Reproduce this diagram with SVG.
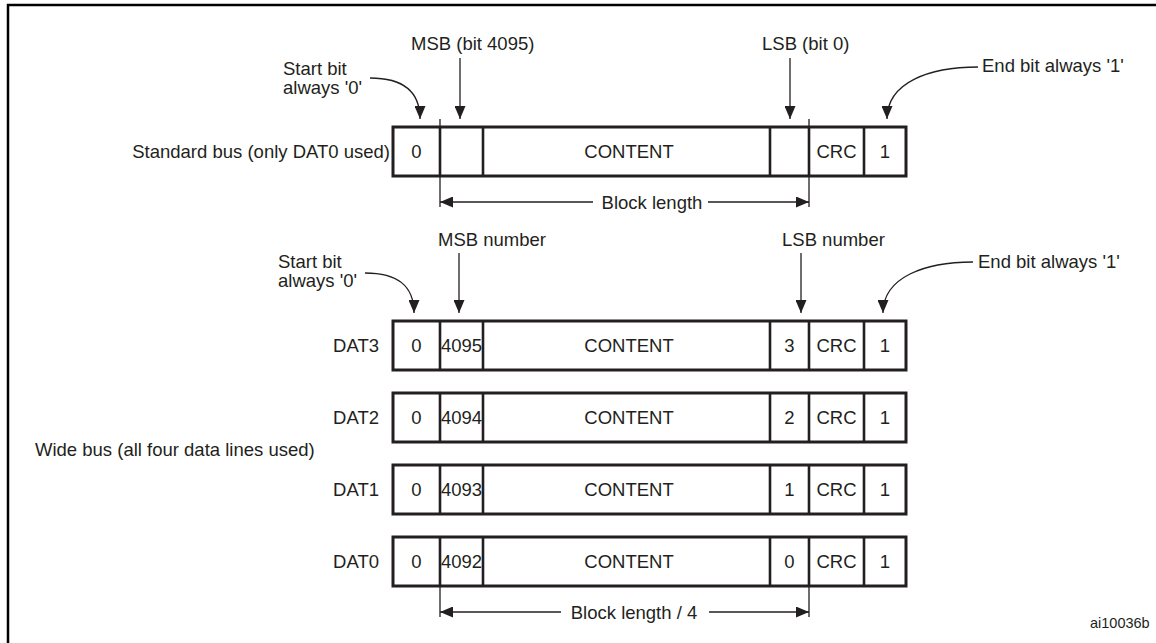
<svg xmlns="http://www.w3.org/2000/svg" width="1156" height="643" viewBox="0 0 1156 643">
<defs>
<style>
text{font-family:"Liberation Sans",Arial,sans-serif;font-size:18.5px;fill:#231f20}
.mid{text-anchor:middle}
.end{text-anchor:end}
.box{fill:#fff;stroke:#231f20;stroke-width:3}
.div{stroke:#231f20;stroke-width:2.6}
.thin{fill:none;stroke:#231f20;stroke-width:1.3}
.frame{fill:none;stroke:#000;stroke-width:2.5}
</style>
<marker id="ah" viewBox="0 0 13 11" refX="13" refY="5.5" markerWidth="13" markerHeight="11" markerUnits="userSpaceOnUse" orient="auto-start-reverse">
<path d="M0,0 L13,5.5 L0,11 z" fill="#231f20"/>
</marker>
</defs>
<rect width="1156" height="643" fill="#fff"/>
<path class="frame" d="M8,643 V5 H1156"/>

<g id="std-label"><text class="end" x="390" y="158">Standard bus (only DAT0 used)</text></g>
<g id="std-row">
<rect class="box" x="393" y="127" width="513" height="49"/>
<path class="div" d="M440,127V176M483,127V176M770,127V176M809,127V176M864,127V176"/>
<text class="mid" x="416.5" y="158">0</text>
<text class="mid" x="629" y="158">CONTENT</text>
<text class="mid" x="836.5" y="158">CRC</text>
<text class="mid" x="885" y="158">1</text>
</g>

<g id="std-start"><text x="283" y="74.5">Start bit</text><text x="283" y="93.5">always '0'</text></g>
<g id="std-msb"><text x="411" y="49.5">MSB (bit 4095)</text></g>
<g id="std-lsb"><text x="762" y="49.5">LSB (bit 0)</text></g>
<g id="std-end"><text x="982" y="71.5">End bit always '1'</text></g>
<g id="std-blocklen"><text class="mid" x="652" y="208.5">Block length</text></g>

<g id="wide-label"><text x="35" y="456">Wide bus (all four data lines used)</text></g>

<g id="dat3">
<text class="end" x="379" y="352">DAT3</text>
<rect class="box" x="393" y="321" width="513" height="49"/>
<path class="div" d="M440,321V370M483,321V370M770,321V370M809,321V370M864,321V370"/>
<text class="mid" x="416.5" y="352">0</text>
<text class="mid" x="461.5" y="352">4095</text>
<text class="mid" x="629" y="352">CONTENT</text>
<text class="mid" x="789.5" y="352">3</text>
<text class="mid" x="836.5" y="352">CRC</text>
<text class="mid" x="885" y="352">1</text>
</g>
<g id="dat2">
<text class="end" x="379" y="424">DAT2</text>
<rect class="box" x="393" y="393" width="513" height="49"/>
<path class="div" d="M440,393V442M483,393V442M770,393V442M809,393V442M864,393V442"/>
<text class="mid" x="416.5" y="424">0</text>
<text class="mid" x="461.5" y="424">4094</text>
<text class="mid" x="629" y="424">CONTENT</text>
<text class="mid" x="789.5" y="424">2</text>
<text class="mid" x="836.5" y="424">CRC</text>
<text class="mid" x="885" y="424">1</text>
</g>
<g id="dat1">
<text class="end" x="379" y="496">DAT1</text>
<rect class="box" x="393" y="465" width="513" height="49"/>
<path class="div" d="M440,465V514M483,465V514M770,465V514M809,465V514M864,465V514"/>
<text class="mid" x="416.5" y="496">0</text>
<text class="mid" x="461.5" y="496">4093</text>
<text class="mid" x="629" y="496">CONTENT</text>
<text class="mid" x="789.5" y="496">1</text>
<text class="mid" x="836.5" y="496">CRC</text>
<text class="mid" x="885" y="496">1</text>
</g>
<g id="dat0">
<text class="end" x="379" y="568">DAT0</text>
<rect class="box" x="393" y="537" width="513" height="49"/>
<path class="div" d="M440,537V586M483,537V586M770,537V586M809,537V586M864,537V586"/>
<text class="mid" x="416.5" y="568">0</text>
<text class="mid" x="461.5" y="568">4092</text>
<text class="mid" x="629" y="568">CONTENT</text>
<text class="mid" x="789.5" y="568">0</text>
<text class="mid" x="836.5" y="568">CRC</text>
<text class="mid" x="885" y="568">1</text>
</g>

<g id="wide-start"><text x="278" y="268">Start bit</text><text x="278" y="287">always '0'</text></g>
<g id="wide-msb"><text x="438" y="245.5">MSB number</text></g>
<g id="wide-lsb"><text x="782" y="245.5">LSB number</text></g>
<g id="wide-end"><text x="978" y="268">End bit always '1'</text></g>
<g id="wide-blocklen"><text class="mid" x="634" y="618.5">Block length / 4</text></g>

<g id="ai-code"><text x="1090" y="628" style="font-size:14.5px">ai10036b</text></g>

<g id="connectors" class="thin">
<path class="thin" d="M370,78 C402,78 420,90 420,119" marker-end="url(#ah)"/>
<path class="thin" d="M460,58 V119" marker-end="url(#ah)"/>
<path class="thin" d="M790,58 V119" marker-end="url(#ah)"/>
<path class="thin" d="M978,67 C930,67 887,82 887,119" marker-end="url(#ah)"/>
<path class="thin" d="M440,119 V207 M809,119 V207"/>
<path class="thin" d="M440,202 H593" marker-start="url(#ah)"/>
<path class="thin" d="M708,202 H809" marker-end="url(#ah)"/>

<path class="thin" d="M365,273 C397,273 414,285 414,313" marker-end="url(#ah)"/>
<path class="thin" d="M459,253 V313" marker-end="url(#ah)"/>
<path class="thin" d="M801,253 V313" marker-end="url(#ah)"/>
<path class="thin" d="M973,262 C925,262 883,277 883,313" marker-end="url(#ah)"/>
<path class="thin" d="M440,586 V617 M809,586 V617"/>
<path class="thin" d="M440,612 H561" marker-start="url(#ah)"/>
<path class="thin" d="M709,612 H809" marker-end="url(#ah)"/>
</g>
</svg>
